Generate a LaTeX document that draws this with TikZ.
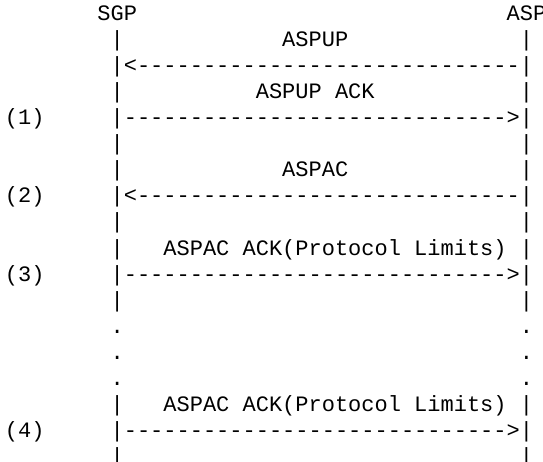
\documentclass[tikz,border=0pt]{standalone}
\usepackage{fontspec}
\setmonofont{Liberation Mono}
\begin{document}
\begin{tikzpicture}[x=13.2pt,y=26pt,
  txt/.style={font=\ttfamily\fontsize{22pt}{26pt}\selectfont, inner sep=0pt, outer sep=0pt, anchor=base west, text=black}]
\useasboundingbox (0pt,0pt) rectangle (543pt,-462pt);
\begin{scope}[shift={(5pt,-21pt)}]
% row 0
\node[txt] (sgp) at (7,0) {SGP};
\node[txt] (asp) at (38,0) {ASP};
% row 1
\node[txt] (l1) at (8,-1) {|};
\node[txt] (m1) at (21,-1) {ASPUP};
\node[txt] (r1) at (39,-1) {|};
% row 2
\node[txt] (a2) at (8,-2) {|<-----------------------------|};
% row 3
\node[txt] (l3) at (8,-3) {|};
\node[txt] (m3) at (19,-3) {ASPUP ACK};
\node[txt] (r3) at (39,-3) {|};
% row 4
\node[txt] (n1) at (0,-4) {(1)};
\node[txt] (a4) at (8,-4) {|----------------------------->|};
% row 5
\node[txt] (l5) at (8,-5) {|};
\node[txt] (r5) at (39,-5) {|};
% row 6
\node[txt] (l6) at (8,-6) {|};
\node[txt] (m6) at (21,-6) {ASPAC};
\node[txt] (r6) at (39,-6) {|};
% row 7
\node[txt] (n2) at (0,-7) {(2)};
\node[txt] (a7) at (8,-7) {|<-----------------------------|};
% row 8
\node[txt] (l8) at (8,-8) {|};
\node[txt] (r8) at (39,-8) {|};
% row 9
\node[txt] (l9) at (8,-9) {|};
\node[txt] (m9) at (12,-9) {ASPAC ACK(Protocol Limits)};
\node[txt] (r9) at (39,-9) {|};
% row 10
\node[txt] (n3) at (0,-10) {(3)};
\node[txt] (a10) at (8,-10) {|----------------------------->|};
% row 11
\node[txt] (l11) at (8,-11) {|};
\node[txt] (r11) at (39,-11) {|};
% rows 12-14
\node[txt] (d12l) at (8,-12) {.};
\node[txt] (d12r) at (39,-12) {.};
\node[txt] (d13l) at (8,-13) {.};
\node[txt] (d13r) at (39,-13) {.};
\node[txt] (d14l) at (8,-14) {.};
\node[txt] (d14r) at (39,-14) {.};
% row 15
\node[txt] (l15) at (8,-15) {|};
\node[txt] (m15) at (12,-15) {ASPAC ACK(Protocol Limits)};
\node[txt] (r15) at (39,-15) {|};
% row 16
\node[txt] (n4) at (0,-16) {(4)};
\node[txt] (a16) at (8,-16) {|----------------------------->|};
% row 17
\node[txt] (l17) at (8,-17) {|};
\node[txt] (r17) at (39,-17) {|};
\end{scope}
\end{tikzpicture}
\end{document}
